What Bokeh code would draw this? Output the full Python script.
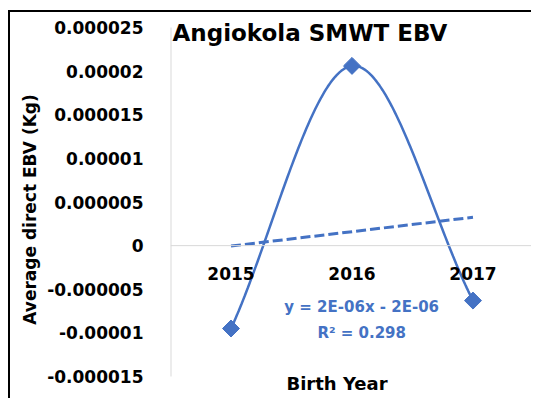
import numpy as np
from bokeh.plotting import figure
from bokeh.models import Range1d, FixedTicker, Span, Label, Title
from bokeh.core.properties import value
from bokeh.embed import file_html
from bokeh.resources import INLINE

# ---- data ----
years = ["2015", "2016", "2017"]
ebv = [-9.5e-6, 2.06e-5, -6.3e-6]
trend_slope = 1.65e-6
trend_intercept = -1.7e-6
y_ticks = [-1.5e-5, -1.0e-5, -5e-6, 0.0, 5e-6, 1.0e-5, 1.5e-5, 2.0e-5, 2.5e-5]
y_tick_labels = ["-0.000015", "-0.00001", "-0.000005", "0", "0.000005",
                 "0.00001", "0.000015", "0.00002", "0.000025"]
title_text = "Angiokola SMWT EBV"
x_title = "Birth Year"
y_title = "Average direct  EBV (Kg)"
equation_text = "y = 2E-06x - 2E-06"
r2_text = "R\u00b2 = 0.298"

BLUE = "#4472C4"
FONT = "DejaVu Sans"

xs = np.arange(1, len(years) + 1, dtype=float)
ys = np.array(ebv)


def smooth(x, y, n=80):
    pts = np.column_stack([x, y])
    m = np.zeros_like(pts)
    m[0] = pts[1] - pts[0]
    m[-1] = pts[-1] - pts[-2]
    for i in range(1, len(pts) - 1):
        m[i] = (pts[i + 1] - pts[i - 1]) / 2
    t = np.linspace(0, 1, n)
    h00 = 2 * t**3 - 3 * t**2 + 1
    h10 = t**3 - 2 * t**2 + t
    h01 = -2 * t**3 + 3 * t**2
    h11 = t**3 - t**2
    out = []
    for i in range(len(pts) - 1):
        seg = (h00[:, None] * pts[i] + h10[:, None] * m[i]
               + h01[:, None] * pts[i + 1] + h11[:, None] * m[i + 1])
        out.append(seg if i == 0 else seg[1:])
    s = np.vstack(out)
    return s[:, 0], s[:, 1]


sx, sy = smooth(xs, ys)
tx = np.array([xs[0], xs[-1]])
ty = trend_slope * tx + trend_intercept

# layout (pixels): frame spans the whole canvas height; tick span is 349 px
CANVAS_H = 388
TICK_TOP_PX = 15
TICK_SPAN_PX = 349
unit = (y_ticks[-1] - y_ticks[0]) / TICK_SPAN_PX
y_top = y_ticks[-1] + TICK_TOP_PX * unit
y_bot = y_ticks[0] - (CANVAS_H - TICK_TOP_PX - TICK_SPAN_PX) * unit

p = figure(width=523, height=CANVAS_H,
           x_range=Range1d(0.5, 3.5), y_range=Range1d(y_bot, y_top),
           output_backend="svg", toolbar_location=None, x_axis_location=None,
           min_border_left=160, min_border_right=0, min_border_top=0,
           min_border_bottom=0)
p.styles = {"margin-left": "8px", "margin-top": "10px",
            "border-left": "2px solid black", "border-top": "2px solid black"}
p.outline_line_color = None
p.grid.visible = False
p.background_fill_color = "white"
p.border_fill_color = "white"

yax = p.yaxis[0]
yax.ticker = FixedTicker(ticks=y_ticks)
yax.major_label_overrides = dict(zip(y_ticks, y_tick_labels))
yax.major_label_text_font = FONT
yax.major_label_text_font_size = "17px"
yax.major_label_text_font_style = "bold"
yax.major_label_text_color = "black"
yax.major_tick_line_color = None
yax.minor_tick_line_color = None
yax.axis_line_color = None
yax.major_label_standoff = 21

p.add_layout(Title(text=y_title, align="center", offset=5, standoff=10,
                   text_font=FONT, text_font_size="17px", text_font_style="bold",
                   text_color="black"), "left")

p.segment(x0=[0.5], y0=[y_ticks[0]], x1=[0.5], y1=[y_ticks[-1]],
          line_color="#d9d9d9", line_width=2)
p.add_layout(Span(location=0, dimension="width", line_color="#d9d9d9", line_width=1))

p.line(tx, ty, line_color=BLUE, line_width=3, line_dash="10 4")
p.line(sx, sy, line_color=BLUE, line_width=2.5)
p.scatter(xs, ys, marker="square", size=12, angle=np.pi / 4,
          fill_color=BLUE, line_color=BLUE)

p.text(x=xs, y=[0.0] * len(xs), text=years, text_align="center",
       text_baseline="middle", y_offset=28, text_font=value(FONT),
       text_font_size="17px", text_font_style="bold", text_color="black")

p.add_layout(Label(x=0.5, y=y_ticks[-1], x_offset=2, y_offset=-5, text=title_text,
                   text_font=FONT, text_font_size="23px", text_font_style="bold",
                   text_color="black", text_align="left", text_baseline="middle"))
p.add_layout(Label(x=2.08, y=0.0, y_offset=-61, text=equation_text,
                   text_font=FONT, text_font_size="15px", text_font_style="bold",
                   text_color=BLUE, text_align="center", text_baseline="middle"))
p.add_layout(Label(x=2.08, y=0.0, y_offset=-87, text=r2_text,
                   text_font=FONT, text_font_size="15px", text_font_style="bold",
                   text_color=BLUE, text_align="center", text_baseline="middle"))
p.add_layout(Label(x=1.876, y=y_ticks[0], y_offset=-7, text=x_title,
                   text_font=FONT, text_font_size="18px", text_font_style="bold",
                   text_color="black", text_align="center", text_baseline="middle"))

open("out.html", "w").write(file_html(p, INLINE))
